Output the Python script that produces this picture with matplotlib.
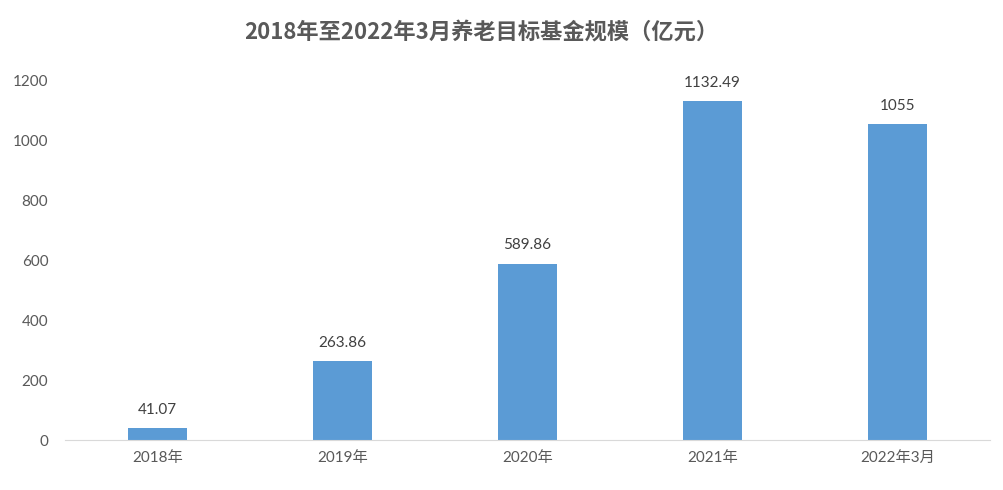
import matplotlib
matplotlib.use("Agg")
import matplotlib.pyplot as plt

categories = ["2018年", "2019年", "2020年", "2021年", "2022年3月"]
values = [41.07, 263.86, 589.86, 1132.49, 1055]
labels = ["41.07", "263.86", "589.86", "1132.49", "1055"]

plt.rcParams["font.family"] = ["Lato", "Noto Sans CJK SC", "DejaVu Sans"]
gray = "#595959"

fig = plt.figure(figsize=(10.04, 4.9), dpi=100)
ax = fig.add_axes([0.0647, 0.102, 0.9213, 0.7327])

x = range(len(categories))
ax.bar(x, values, width=0.315, color="#5B9BD5", zorder=2)
for i, v in enumerate(values):
    ax.annotate(labels[i], (i, v), xytext=(0, 8), textcoords="offset points",
                ha="center", va="bottom", fontsize=11, color="#404040")

ax.set_xlim(-0.5, 4.5)
ax.set_ylim(0, 1200)
ax.set_yticks(range(0, 1201, 200))
ax.set_xticks(list(x))
ax.set_xticklabels(categories)
ax.tick_params(axis="both", length=0, labelsize=11, colors=gray)
ax.tick_params(axis="y", pad=12)
ax.tick_params(axis="x", pad=8)
for s in ["top", "right", "left"]:
    ax.spines[s].set_visible(False)
ax.spines["bottom"].set_color("#D9D9D9")

fig.text(0.479, 0.935, "2018年至2022年3月养老目标基金规模（亿元）", ha="center", va="center",
         fontsize=16, fontweight="bold", color=gray,
         family=["Noto Sans CJK SC", "DejaVu Sans"])

fig.savefig("out.png", dpi=100)
